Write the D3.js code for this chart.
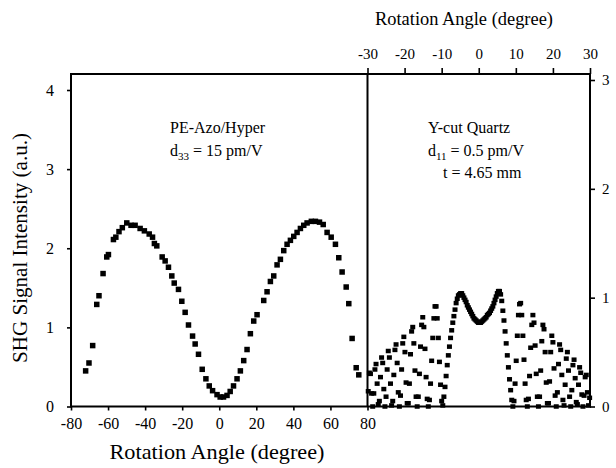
<!DOCTYPE html>
<html><head><meta charset="utf-8">
<script src="https://cdn.jsdelivr.net/npm/d3@7"></script>
<style>
body{margin:0;background:#fff}
svg{display:block}
svg text{font-family:"Liberation Serif","Times New Roman",serif !important;fill:#000}
</style>
</head><body>
<svg id="c" width="616" height="468"></svg>
<script>
// PE-Azo/Hyper film (bottom/left axes)
const azoAngles=[-72.1,-70.3,-68.3,-66.1,-64.9,-62.7,-60.7,-59.8,-57.1,-55.8,-54.1,-52.3,-49.9,-47.6,-45.4,-42.7,-40.4,-37.8,-36.0,-35.0,-33.7,-30.8,-29.2,-27.4,-25.6,-24.3,-22.0,-20.2,-18.4,-16.6,-14.4,-13.0,-11.2,-9.2,-7.2,-5.4,-3.6,-1.2,0.5,2.3,4.2,5.9,7.7,9.6,11.4,13.2,15.0,16.8,18.6,20.4,24.0,25.8,27.6,29.4,31.2,33.0,34.8,36.6,38.4,40.2,42.0,43.8,45.6,47.4,49.7,51.9,54.1,56.1,58.2,60.4,62.7,64.5,66.3,68.5,69.9,71.7,73.9,75.3];
const azoSignal=[0.45,0.55,0.77,1.29,1.40,1.68,1.89,1.92,2.11,2.14,2.21,2.26,2.32,2.29,2.29,2.25,2.22,2.18,2.14,2.06,2.03,1.89,1.84,1.76,1.65,1.56,1.48,1.33,1.19,1.03,0.89,0.79,0.66,0.47,0.35,0.26,0.20,0.15,0.12,0.12,0.14,0.19,0.26,0.35,0.45,0.58,0.72,0.92,1.08,1.16,1.34,1.45,1.58,1.65,1.79,1.86,1.97,2.05,2.10,2.15,2.20,2.25,2.29,2.32,2.34,2.34,2.33,2.30,2.20,2.14,2.05,1.88,1.70,1.51,1.30,0.86,0.49,0.40];

// Y-cut quartz reference (top/right axes)
const quartzAngles=[
-29.8,-29.5,-29.2,-28.9,-28.6,-28.3,-28.0,-27.7,-27.4,-27.1,
-26.8,-26.5,-26.2,-25.9,-25.6,-25.3,-25.0,-24.7,-24.4,-24.1,
-23.8,-23.5,-23.2,-22.9,-22.6,-22.3,-22.0,-21.7,-21.4,-21.1,
-20.8,-20.5,-20.2,-19.9,-19.6,-19.3,-19.0,-18.7,-18.4,-18.1,
-17.8,-17.5,-17.2,-16.9,-16.6,-16.3,-16.0,-15.7,-15.4,-15.1,
-14.8,-14.5,-14.2,-13.9,-13.6,-13.3,-13.0,-12.7,-12.4,-12.1,
-11.8,-11.5,-11.2,-10.9,-10.6,-10.3,-10.0,-9.7,-9.4,-9.1,
-8.8,-8.5,-8.2,-7.9,-7.6,-7.3,-7.0,-6.7,-6.4,-6.1,
-5.8,-5.5,-5.2,-4.9,-4.6,-4.3,-4.0,-3.7,-3.4,-3.1,
-2.8,-2.5,-2.2,-1.9,-1.6,-1.3,-1.0,-0.7,-0.4,-0.1,
0.2,0.5,0.8,1.1,1.4,1.7,2.0,2.3,2.6,2.9,
3.2,3.5,3.8,4.1,4.4,4.7,5.0,5.3,5.6,5.9,
6.2,6.5,6.8,7.1,7.4,7.7,8.0,8.3,8.6,8.9,
9.2,9.5,9.8,10.1,10.4,10.7,11.0,11.3,11.6,11.9,
12.2,12.5,12.8,13.1,13.4,13.7,14.0,14.3,14.6,14.9,
15.2,15.5,15.8,16.1,16.4,16.7,17.0,17.3,17.6,17.9,
18.2,18.5,18.8,19.1,19.4,19.7,20.0,20.3,20.6,20.9,
21.2,21.5,21.8,22.1,22.4,22.7,23.0,23.3,23.6,23.9,
24.2,24.5,24.8,25.1,25.4,25.7,26.0,26.3,26.6,26.9,
27.2,27.5,27.8,28.1,28.4,28.7,29.0,29.3,29.6,29.9];
const quartzSignal=[
0.14,0.31,0.30,0.12,0.00,0.12,0.34,0.39,0.21,0.02,
0.05,0.27,0.45,0.40,0.16,0.00,0.09,0.34,0.51,0.45,
0.21,0.01,0.05,0.29,0.52,0.57,0.40,0.13,0.00,0.10,
0.34,0.58,0.64,0.50,0.22,0.03,0.03,0.21,0.48,0.69,
0.73,0.58,0.33,0.09,0.00,0.09,0.30,0.55,0.75,0.82,
0.73,0.53,0.27,0.07,0.00,0.06,0.21,0.42,0.63,0.81,
0.92,0.92,0.81,0.63,0.41,0.20,0.05,0.01,0.09,0.18,
0.28,0.38,0.47,0.55,0.63,0.70,0.77,0.83,0.89,0.95,
0.99,1.02,1.03,1.04,1.04,1.02,1.00,0.98,0.96,0.93,
0.91,0.89,0.87,0.85,0.83,0.81,0.80,0.79,0.78,0.77,
0.77,0.77,0.78,0.79,0.80,0.81,0.82,0.84,0.85,0.86,
0.88,0.90,0.92,0.95,0.98,1.01,1.04,1.06,1.06,1.03,
0.97,0.88,0.79,0.69,0.58,0.47,0.36,0.25,0.15,0.06,
0.00,0.05,0.21,0.42,0.65,0.84,0.94,0.95,0.84,0.65,
0.43,0.21,0.06,0.00,0.07,0.28,0.54,0.75,0.84,0.77,
0.56,0.30,0.09,0.00,0.09,0.33,0.60,0.75,0.71,0.50,
0.22,0.03,0.03,0.23,0.50,0.65,0.59,0.35,0.10,0.00,
0.13,0.39,0.57,0.52,0.29,0.06,0.01,0.20,0.44,0.50,
0.33,0.09,0.00,0.15,0.38,0.43,0.26,0.04,0.02,0.20,
0.36,0.31,0.11,0.00,0.10,0.27,0.29,0.13,0.01,0.08];

const bottomTicks=[-80,-60,-40,-20,0,20,40,60,80];
const topTicks=[-30,-20,-10,0,10,20,30];
const leftTicks=[0,1,2,3,4];
const rightTicks=[0,1,2,3];

const svg=d3.select('#c');
const L=71, D=367.5, R=590, T=74, B=406.5;
const xL=d3.scaleLinear().domain([-80,80]).range([L,D]);
const yL=d3.scaleLinear().domain([0,4]).range([B,90]);
const xR=d3.scaleLinear().domain([-30,30]).range([D,R]);
const yR=d3.scaleLinear().domain([0,3]).range([B,80]);
const fmt=d=>String(d);
const serif='"Liberation Serif","Times New Roman",serif';

function styleAxis(g,fs){
  g.attr('font-family',serif).attr('font-size',fs);
  g.select('.domain').remove();
  g.selectAll('.tick line').attr('stroke','#000').attr('stroke-width',1.6);
  g.selectAll('.tick text').attr('fill','#000');
}
svg.append('g').attr('transform',`translate(${L},0)`)
  .call(d3.axisLeft(yL).tickValues(leftTicks).tickFormat(fmt).tickSize(4).tickPadding(13))
  .call(g=>styleAxis(g,16));
svg.append('g').attr('transform',`translate(0,${B})`)
  .call(d3.axisBottom(xL).tickValues(bottomTicks).tickFormat(fmt).tickSize(4).tickPadding(7))
  .call(g=>styleAxis(g,16));
svg.append('g').attr('transform',`translate(0,${T})`)
  .call(d3.axisTop(xR).tickValues(topTicks).tickFormat(fmt).tickSize(6).tickPadding(9))
  .call(g=>styleAxis(g,15));
svg.append('g').attr('transform',`translate(${R},0)`)
  .call(d3.axisRight(yR).tickValues(rightTicks).tickFormat(fmt).tickSize(5).tickPadding(7))
  .call(g=>styleAxis(g,15));

// frame + divider
svg.append('rect').attr('x',L).attr('y',T).attr('width',R-L).attr('height',B-T)
  .attr('fill','none').attr('stroke','#000').attr('stroke-width',2);
svg.append('line').attr('x1',D).attr('x2',D).attr('y1',T).attr('y2',B)
  .attr('stroke','#000').attr('stroke-width',2);

// markers
const azo=azoAngles.map((a,i)=>({a,v:azoSignal[i]}));
svg.append('g').selectAll('rect').data(azo).join('rect')
  .attr('x',d=>xL(d.a)-2.75).attr('y',d=>yL(d.v)-2.75)
  .attr('width',5.5).attr('height',5.5).attr('fill','#000');
const qz=quartzAngles.map((a,i)=>({a,v:quartzSignal[i]}));
svg.append('g').selectAll('rect').data(qz).join('rect')
  .attr('x',d=>xR(d.a)-2.5).attr('y',d=>yR(d.v)-2.25)
  .attr('width',5).attr('height',4.5).attr('fill','#000');

// titles
svg.append('text').attr('x',217).attr('y',459).attr('text-anchor','middle')
  .attr('font-size',21).attr('textLength',215).attr('lengthAdjust','spacingAndGlyphs')
  .text('Rotation Angle (degree)');
svg.append('text').attr('x',464).attr('y',25).attr('text-anchor','middle')
  .attr('font-size',18).attr('textLength',178).attr('lengthAdjust','spacingAndGlyphs')
  .text('Rotation Angle (degree)');
svg.append('text').attr('transform','translate(27,248) rotate(-90)').attr('text-anchor','middle')
  .attr('font-size',20).attr('textLength',230).attr('lengthAdjust','spacingAndGlyphs')
  .text('SHG Signal Intensity (a.u.)');

// annotations
function sub(x,y,main,s,rest){
  const t=svg.append('text').attr('x',x).attr('y',y).attr('font-size',16);
  t.append('tspan').text(main);
  t.append('tspan').attr('font-size',11).attr('dy',4).text(s);
  t.append('tspan').attr('dy',-4).text(rest);
}
svg.append('text').attr('x',170).attr('y',133).attr('font-size',16).text('PE-Azo/Hyper');
sub(170,156,'d','33',' = 15 pm/V');
svg.append('text').attr('x',428).attr('y',133).attr('font-size',16).text('Y-cut Quartz');
sub(428,156,'d','11',' = 0.5 pm/V');
svg.append('text').attr('x',443).attr('y',178).attr('font-size',16).text('t = 4.65 mm');
</script>
</body></html>
